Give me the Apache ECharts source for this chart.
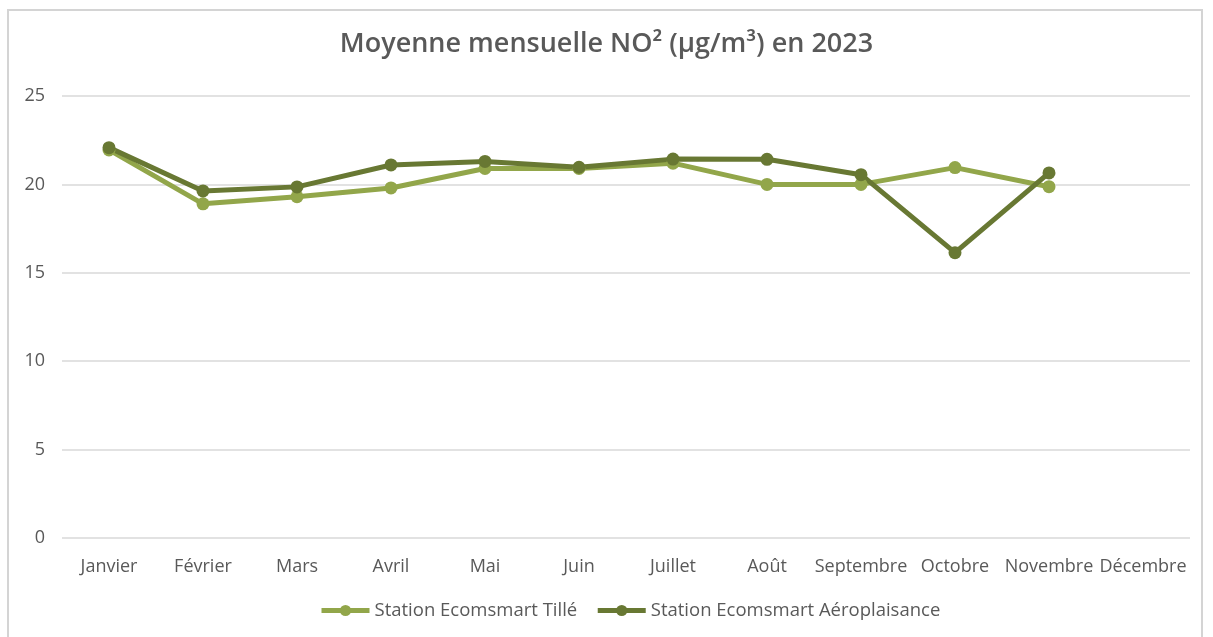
<!DOCTYPE html>
<html lang="fr">
<head>
    <meta charset="UTF-8">
    <title>Moyenne mensuelle NO²</title>
    <script src="https://cdn.jsdelivr.net/npm/echarts/dist/echarts.min.js"></script>
    <style>
        body {
            margin: 0;
            padding: 0;
            background-color: white;
        }
        #frame {
            position: absolute;
            left: 7px;
            top: 9px;
            width: 1196px;
            height: 640px;
            border: 2px solid #d4d4d4;
            box-sizing: border-box;
        }
        #chartContainer {
            position: absolute;
            left: 0;
            top: 0;
            width: 1213px;
            height: 637px;
        }
    </style>
</head>
<body>
    <div id="frame"></div>
    <div id="chartContainer"></div>

    <script>
        // mois
        const months = ['Janvier', 'Février', 'Mars', 'Avril', 'Mai', 'Juin', 'Juillet', 'Août', 'Septembre', 'Octobre', 'Novembre', 'Décembre'];
        // moyennes NO2 par station (µg/m³), décembre absent
        const tilleValues = [21.95, 18.9, 19.3, 19.8, 20.9, 20.9, 21.2, 20.0, 20.0, 20.95, 19.87, null];
        const aeroValues = [22.08, 19.63, 19.86, 21.1, 21.3, 20.97, 21.43, 21.42, 20.55, 16.14, 20.65, null];
        const seriesNames = ['Station Ecomsmart Tillé', 'Station Ecomsmart Aéroplaisance'];

        const textColor = '#595959';
        const font = '"Open Sans", sans-serif';

        const chart = echarts.init(document.getElementById('chartContainer'));

        const option = {
            animation: false,
            title: {
                text: 'Moyenne mensuelle NO² (µg/m³) en 2023',
                left: 'center',
                top: 26,
                textStyle: {
                    color: textColor,
                    fontSize: 27,
                    fontWeight: 600,
                    fontFamily: font
                }
            },
            legend: {
                bottom: 12,
                left: 314,
                itemWidth: 48,
                itemHeight: 14,
                itemGap: 18,
                textStyle: {
                    color: textColor,
                    fontSize: 18.5,
                    fontFamily: font
                },
                lineStyle: { width: 5 },
                data: seriesNames
            },
            grid: {
                left: 62,
                right: 23,
                top: 96,
                bottom: 99
            },
            xAxis: {
                type: 'category',
                data: months,
                axisLine: { show: false },
                axisTick: { show: false },
                axisLabel: {
                    color: textColor,
                    fontSize: 18,
                    fontFamily: font,
                    margin: 20,
                    interval: 0
                }
            },
            yAxis: {
                type: 'value',
                min: 0,
                max: 25,
                interval: 5,
                axisLine: { show: false },
                axisTick: { show: false },
                axisLabel: {
                    color: textColor,
                    fontSize: 18,
                    fontFamily: font,
                    margin: 17
                },
                splitLine: {
                    lineStyle: { color: '#d9d9d9', width: 1.5 }
                }
            },
            series: [
                {
                    name: seriesNames[0],
                    type: 'line',
                    data: tilleValues,
                    symbol: 'circle',
                    symbolSize: 13,
                    itemStyle: { color: '#92a64a' },
                    lineStyle: { color: '#92a64a', width: 5 }
                },
                {
                    name: seriesNames[1],
                    type: 'line',
                    data: aeroValues,
                    symbol: 'circle',
                    symbolSize: 13,
                    itemStyle: { color: '#687833' },
                    lineStyle: { color: '#687833', width: 5 }
                }
            ]
        };

        chart.setOption(option);
    </script>
</body>
</html>
